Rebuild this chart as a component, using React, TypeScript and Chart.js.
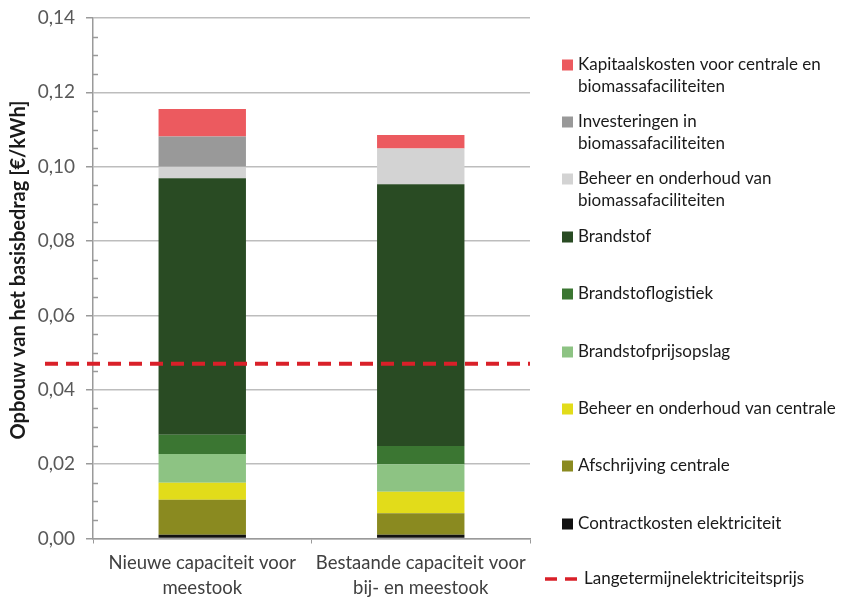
import React, { useEffect, useRef } from 'react';
import { Chart, registerables } from 'chart.js';

Chart.register(...registerables);

// ---- data ----
const categories = [
  ['Nieuwe capaciteit voor', 'meestook'],
  ['Bestaande capaciteit voor', 'bij- en meestook'],
];
const contractkosten = [0.001, 0.001];
const afschrijving = [0.0094, 0.0058];
const beheerCentrale = [0.0046, 0.0058];
const prijsopslag = [0.0077, 0.0074];
const logistiek = [0.0052, 0.0049];
const brandstof = [0.069, 0.0704];
const beheerBio = [0.0031, 0.0096];
const investeringen = [0.0081, 0];
const kapitaal = [0.0074, 0.0036];
const langetermijnPrijs = 0.047;

const yMin = 0;
const yMax = 0.14;
const yStep = 0.02;
const yMinorStep = 0.005;
const yTitle = 'Opbouw van het basisbedrag [€/kWh]';

// bottom -> top
const seriesLabels = [
  ['Contractkosten elektriciteit'],
  ['Afschrijving centrale'],
  ['Beheer en onderhoud van centrale'],
  ['Brandstofprijsopslag'],
  ['Brandstoflogistiek'],
  ['Brandstof'],
  ['Beheer en onderhoud van', 'biomassafaciliteiten'],
  ['Investeringen in', 'biomassafaciliteiten'],
  ['Kapitaalskosten voor centrale en', 'biomassafaciliteiten'],
];
const seriesValues = [
  contractkosten,
  afschrijving,
  beheerCentrale,
  prijsopslag,
  logistiek,
  brandstof,
  beheerBio,
  investeringen,
  kapitaal,
];
const seriesColors = [
  '#111111',
  '#8A8A20',
  '#E2DC1A',
  '#8DC383',
  '#3B7632',
  '#294B23',
  '#D3D3D3',
  '#999999',
  '#EC5A5F',
];
const lineLabel = 'Langetermijnelektriciteitsprijs';
const lineColor = '#D92029';

const FONT = 'Lato, "Open Sans", sans-serif';

const legendPlugin = {
  id: 'customLegend',
  afterDraw(chart: any) {
    const ctx = chart.ctx;
    ctx.save();
    ctx.font = `17px ${FONT}`;
    ctx.textBaseline = 'middle';
    ctx.textAlign = 'left';
    const rowYs = [65, 122, 179, 237, 294, 352, 409, 466, 524];
    // top->bottom order
    for (let i = 0; i < seriesLabels.length; i++) {
      const si = seriesLabels.length - 1 - i;
      const y = rowYs[i];
      ctx.fillStyle = seriesColors[si];
      ctx.fillRect(562, y - 5.5, 11, 11);
      ctx.fillStyle = '#1a1a1a';
      seriesLabels[si].forEach((t, k) => ctx.fillText(t, 578, y + k * 22));
    }
    // line legend
    const ly = 579;
    ctx.strokeStyle = lineColor;
    ctx.lineWidth = 3.5;
    ctx.setLineDash([12, 8]);
    ctx.beginPath();
    ctx.moveTo(545, ly);
    ctx.lineTo(578, ly);
    ctx.stroke();
    ctx.setLineDash([]);
    ctx.fillStyle = '#1a1a1a';
    ctx.fillText(lineLabel, 584, ly);
    // y axis title
    ctx.translate(19, 270);
    ctx.rotate(-Math.PI / 2);
    ctx.textAlign = 'center';
    ctx.font = `bold 20px ${FONT}`;
    ctx.fillText(yTitle, 0, 0);
    ctx.restore();
  },
};

const overlayPlugin = {
  id: 'overlay',
  afterDatasetsDraw(chart: any) {
    const ctx = chart.ctx;
    const ys = chart.scales.y;
    const area = chart.chartArea;
    ctx.save();
    // minor ticks on the inside of the y axis
    ctx.strokeStyle = '#9a9a9a';
    ctx.lineWidth = 1.5;
    const n = Math.round((yMax - yMin) / yMinorStep);
    for (let i = 0; i <= n; i++) {
      if (i % Math.round(yStep / yMinorStep) === 0) continue;
      const py = Math.round(ys.getPixelForValue(yMin + i * yMinorStep)) + 0.5;
      ctx.beginPath();
      ctx.moveTo(area.left, py);
      ctx.lineTo(area.left + 5, py);
      ctx.stroke();
    }
    // dashed price line
    const py = ys.getPixelForValue(langetermijnPrijs);
    ctx.strokeStyle = lineColor;
    ctx.lineWidth = 4;
    ctx.setLineDash([13, 8]);
    ctx.beginPath();
    ctx.moveTo(area.left - 48, py);
    ctx.lineTo(area.right, py);
    ctx.stroke();
    ctx.restore();
  },
};

export default function App() {
  const ref = useRef<HTMLCanvasElement>(null);
  useEffect(() => {
    document.body.style.margin = '0';
    const chart = new Chart(ref.current!, {
      type: 'bar',
      data: {
        labels: categories,
        datasets: seriesValues.map((vals, i) => ({
          label: seriesLabels[i].join(' '),
          data: vals,
          backgroundColor: seriesColors[i],
          borderWidth: 0,
          categoryPercentage: 1,
          barPercentage: 0.4,
        })),
      },
      options: {
        animation: false,
        responsive: true,
        maintainAspectRatio: false,
        layout: { padding: { left: 0, right: 325, top: 18, bottom: 0 } },
        plugins: {
          legend: { display: false },
          tooltip: { enabled: false },
        },
        scales: {
          x: {
            stacked: true,
            afterFit: (s: any) => {
              s.height = 60.5;
            },
            grid: {
              drawOnChartArea: false,
              color: '#9a9a9a',
              tickLength: 5,
              offset: true,
            },
            border: { color: '#9a9a9a', width: 1.5 },
            ticks: {
              color: '#404040',
              font: { family: FONT, size: 18.5, lineHeight: 1.3 },
              padding: 8,
            },
          },
          y: {
            stacked: true,
            min: yMin,
            max: yMax,
            afterFit: (s: any) => {
              s.width = 93;
              s.paddingTop = 0;
              s.paddingBottom = 0;
            },
            ticks: {
              stepSize: yStep,
              color: '#595959',
              font: { family: FONT, size: 19 },
              padding: 11,
              callback: (v: any) => Number(v).toFixed(2).replace('.', ','),
            },
            grid: { color: '#bdbdbd', lineWidth: 1.5, tickLength: 7, tickColor: '#9a9a9a' },
            border: { color: '#9a9a9a', width: 1.5 },
          },
        },
      },
      plugins: [overlayPlugin, legendPlugin],
    });
    return () => chart.destroy();
  }, []);
  return (
    <div style={{ position: 'absolute', left: 0, top: 0, width: 855, height: 599 }}>
      <canvas ref={ref} />
    </div>
  );
}
